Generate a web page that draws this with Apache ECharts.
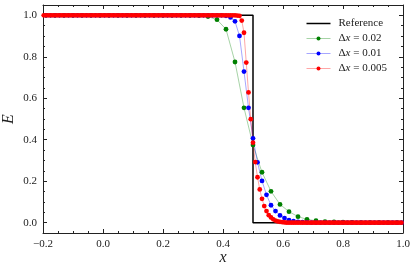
<!DOCTYPE html>
<html>
<head>
<meta charset="utf-8">
<script src="https://cdn.jsdelivr.net/npm/echarts@6/dist/echarts.min.js"></script>
<style>
html,body{margin:0;padding:0;background:#fff;}
#chart{width:415px;height:273px;}
</style>
</head>
<body>
<div id="chart"></div>
<script>
// ---- data ----
const xTicks = [-0.2, 0.0, 0.2, 0.4, 0.6, 0.8, 1.0];
const yTicks = [0.0, 0.2, 0.4, 0.6, 0.8, 1.0];
const yMinorTicks = [-0.05, 0.05, 0.1, 0.15, 0.25, 0.3, 0.35, 0.45, 0.5, 0.55, 0.65, 0.7, 0.75, 0.85, 0.9, 0.95, 1.05];

const refX = [-0.2, 0.5, 0.5, 1.0];
const refE = [1, 1, 0, 0];

// grid of the 0.02 run: first x and spacing of points as drawn
const greenStart = -0.19, greenStep = 0.03;
const greenE = [
  1,1,1,1,1,1,1,1,1,1,
  1,1,1,1,1,1,1,
  0.999,0.994,0.979,0.933,0.775,0.554,0.374,0.243,0.151,0.088,0.053,0.029,0.016,0.009,0.005,0.003,0.002,0.001,
  0,0,0,0,0
];

const blueStart = -0.19, blueStep = 0.015;
const blueE = [
  1,1,1,1,1,1,1,1,1,1,
  1,1,1,1,1,1,1,1,1,1,
  1,1,1,1,1,1,1,1,1,1,
  1,1,1,1,1,1,1,1,1,1,
  0.998,0.990,0.971,0.901,0.729,0.554,0.407,0.291,0.201,0.134,0.084,0.056,0.035,0.022,0.012,0.007,0.004,0.002,0.001,
  0,0,0,0,0,0,0,0,0,0,
  0,0,0,0,0,0,0,0,0,0,
  0
];

const redStart = -0.1975, redStep = 0.0075;
const redE = [
  1,1,1,1,1,1,1,1,1,1,
  1,1,1,1,1,1,1,1,1,1,
  1,1,1,1,1,1,1,1,1,1,
  1,1,1,1,1,1,1,1,1,1,
  1,1,1,1,1,1,1,1,1,1,
  1,1,1,1,1,1,1,1,1,1,
  1,1,1,1,1,1,1,1,1,1,
  1,1,1,1,1,1,1,1,1,1,
  1,1,1,1,1,1,
  0.999,0.998,0.975,0.916,0.772,0.628,0.499,0.386,0.292,0.219,0.160,0.115,0.080,0.056,0.036,0.025,0.016,0.010,0.006,0.004,0.002,0.001,
  0,0,0,0,0,0,0,0,0,0,
  0,0,0,0,0,0,0,0,0,0,
  0,0,0,0,0,0,0,0,0,0,
  0,0,0,0,0,0,0,0,0,0,
  0,0,0,0,0,0,0,0,0,0,
  0,0
];

function pairs(start, step, vals) {
  return vals.map((v, i) => [+(start + i * step).toFixed(5), v]);
}

const FONT = '"Liberation Serif", "DejaVu Serif", serif';
const fmt = v => {
  const s = Math.abs(v).toFixed(1);
  return v < -1e-9 ? '\u2212' + s : s;
};

const YMIN = -0.05, YMAX = 1.05;
function yAxisDef(pos, custom, len, labels, line) {
  return {
    type: 'value', min: YMIN, max: YMAX, position: pos,
    axisLine: {show: line, onZero: false, lineStyle: {color: '#222', width: 1}},
    axisTick: {show: true, inside: true, length: len, customValues: custom, lineStyle: {color: '#222', width: 1}},
    axisLabel: {show: labels, customValues: yTicks, formatter: fmt, fontFamily: FONT, fontSize: 11, color: '#222', margin: 6},
    splitLine: {show: false},
    name: labels ? 'E' : '',
    nameLocation: 'middle', nameGap: 26, nameMoveOverlap: false,
    nameTextStyle: {fontFamily: FONT, fontStyle: 'italic', fontSize: 16, color: '#222'}
  };
}
function xAxisDef(pos, labels) {
  return {
    type: 'value', min: -0.2, max: 1.0, interval: 0.2, position: pos,
    axisLine: {show: true, onZero: false, lineStyle: {color: '#222', width: 1}},
    axisTick: {show: true, inside: true, length: 4, lineStyle: {color: '#222', width: 1}},
    minorTick: {show: true, splitNumber: 4, length: 2, lineStyle: {color: '#222', width: 1}},
    axisLabel: {show: labels, formatter: fmt, fontFamily: FONT, fontSize: 11, color: '#222', margin: 6},
    splitLine: {show: false}, minorSplitLine: {show: false},
    name: labels ? 'x' : '',
    nameLocation: 'middle', nameGap: 17, nameMoveOverlap: false,
    nameTextStyle: {fontFamily: FONT, fontStyle: 'italic', fontSize: 16, color: '#222'}
  };
}

function dotSeries(name, color, data) {
  return {
    name, type: 'line', data, xAxisIndex: 0, yAxisIndex: 0,
    symbol: 'circle', symbolSize: 4.8, showSymbol: true,
    itemStyle: {color: color},
    lineStyle: {color: color, width: 1, opacity: 0.35},
    animation: false, z: 3
  };
}

const legendNames = ['Reference', '\u0394x = 0.02', '\u0394x = 0.01', '\u0394x = 0.005'];

const chart = echarts.init(document.getElementById('chart'), null, {renderer: 'canvas'});
chart.setOption({
  animation: false,
  backgroundColor: '#fff',
  grid: {left: 43, right: 12, top: 5, bottom: 40, outerBoundsMode: 'none', containLabel: false},
  xAxis: [xAxisDef('bottom', true), xAxisDef('top', false)],
  yAxis: [
    yAxisDef('left', yTicks, 4, true, true),
    yAxisDef('left', yMinorTicks, 2, false, false),
    yAxisDef('right', yTicks, 4, false, true),
    yAxisDef('right', yMinorTicks, 2, false, false)
  ],
  legend: {
    orient: 'vertical', left: 301, top: 13,
    itemWidth: 24, itemHeight: 5, itemGap: 4,
    data: legendNames.map((n, i) => i === 0
      ? {name: n, icon: 'path://M0,0H24V1.5H0Z', itemStyle: {color: '#000'}}
      : {name: n, lineStyle: {opacity: 0.35, width: 1}}),
    formatter: n => n === 'Reference' ? '{n|Reference}' : '{n|\u0394}{i|x}{n|' + n.slice(2) + '}',
    textStyle: {
      fontFamily: FONT, fontSize: 11, color: '#222', padding: [0, 0, 0, 3],
      rich: {
        n: {fontFamily: FONT, fontSize: 11, color: '#222'},
        i: {fontFamily: FONT, fontSize: 11, fontStyle: 'italic', color: '#222'}
      }
    }
  },
  series: [
    {
      name: 'Reference', type: 'line', data: refX.map((x, i) => [x, refE[i]]),
      symbol: 'none', lineStyle: {color: '#000', width: 1.5}, itemStyle: {color: '#000'},
      xAxisIndex: 0, yAxisIndex: 0, z: 2
    },
    dotSeries('\u0394x = 0.02', '#008000', pairs(greenStart, greenStep, greenE)),
    dotSeries('\u0394x = 0.01', '#0000ff', pairs(blueStart, blueStep, blueE)),
    dotSeries('\u0394x = 0.005', '#ff0000', pairs(redStart, redStep, redE))
  ]
});
</script>
</body>
</html>
